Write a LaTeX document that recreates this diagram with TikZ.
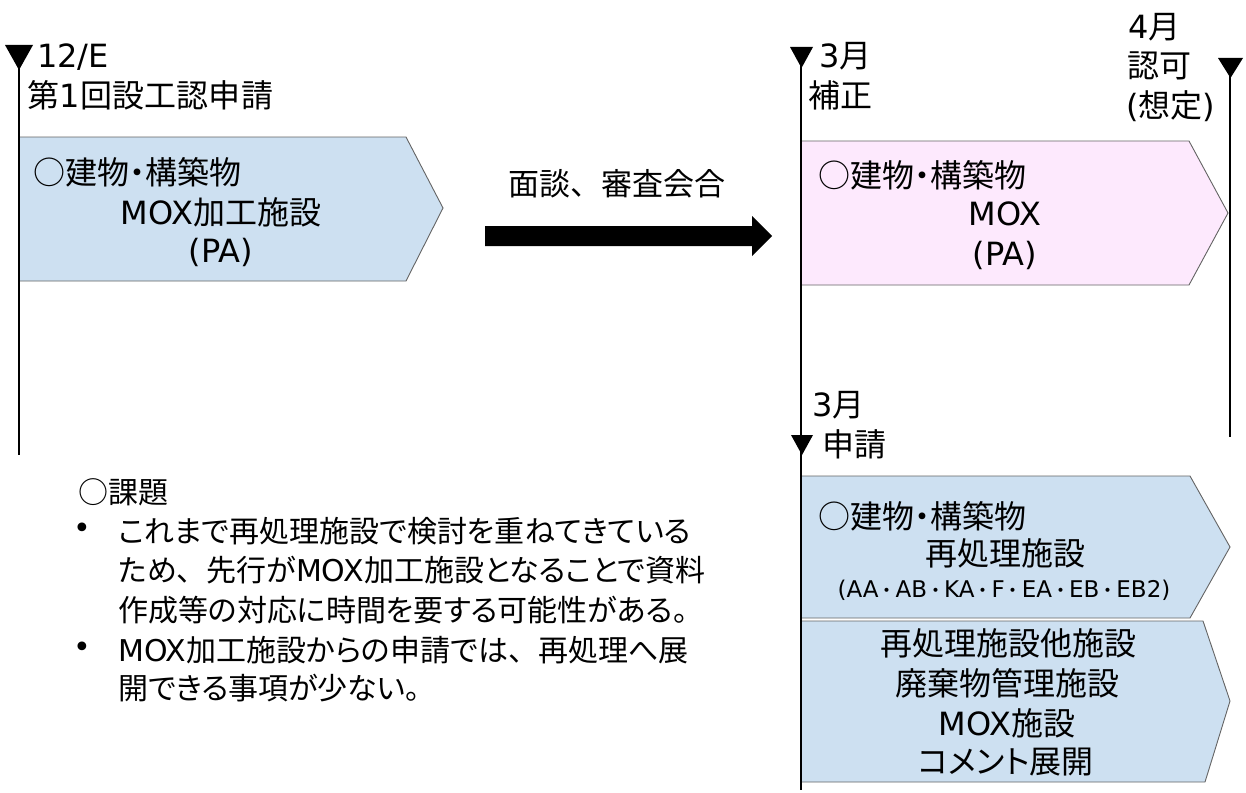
\documentclass[tikz,border=0pt]{standalone}
\usepackage{fontspec}
\setmainfont{Noto Sans CJK JP}[RawFeature=+palt]
\newfontfamily\latf{DejaVu Sans}
\newfontfamily\jpfw{Noto Sans CJK JP}
\newcommand\la[1]{{\latf #1}}
\newcommand\md{{\jpfw\fontsize{19}{22}\selectfont\kern-1pt ・\kern-1pt}}
\newcommand\tc{{\jpfw 、}}
\definecolor{boxblue}{RGB}{205,224,241}
\definecolor{boxpink}{RGB}{253,233,253}
\definecolor{edge}{RGB}{100,100,100}
\tikzset{
  lbl/.style={inner sep=0pt, font=\fontsize{32}{38}\selectfont},
  body/.style={inner sep=0pt, font=\fontsize{30}{37}\selectfont},
  small/.style={inner sep=0pt, font=\fontsize{23}{28}\selectfont},
  chev/.style={draw=edge, line width=0.9pt},
  tl/.style={line width=2.6pt},
  tri/.style={fill=black}
}
\begin{document}
\begin{tikzpicture}[x=1pt,y=-1pt]
\useasboundingbox (0,0) rectangle (1246,792);
% chevron boxes
\draw[chev, fill=boxblue] (19,137) -- (406,137) -- (443,208) -- (406,281) -- (19,281) -- cycle;
\draw[chev, fill=boxpink] (801,141) -- (1189,141) -- (1228,213) -- (1189,285) -- (801,285) -- cycle;
\draw[chev, fill=boxblue] (801,476) -- (1190,476) -- (1230,547) -- (1190,618) -- (801,618) -- cycle;
\draw[chev, fill=boxblue] (801,621) -- (1203,621) -- (1230,701) -- (1205,782) -- (801,782) -- cycle;
% timelines
\coordinate (l1a) at (19,55); \coordinate (l1b) at (19,455);
\coordinate (l2a) at (801,55); \coordinate (l2b) at (801,790);
\coordinate (l3a) at (1230,70); \coordinate (l3b) at (1230,437);
\draw[tl] (l1a) -- (l1b);
\draw[tl] (l2a) -- (l2b);
\draw[tl] (l3a) -- (l3b);
% triangles
\fill[tri] (5,45) -- (33,45) -- (19,70) -- cycle;
\fill[tri] (790,47) -- (813,47) -- (801.5,68) -- cycle;
\fill[tri] (1218,58) -- (1243,58) -- (1230.5,78) -- cycle;
\fill[tri] (791,435) -- (813,435) -- (802,455) -- cycle;
% big arrow
\coordinate (arA) at (485,236); \coordinate (arB) at (772,236);
\fill (485,226) -- (752,226) -- (752,216) -- (772,236) -- (752,256) -- (752,246) -- (485,246) -- cycle;
\node[lbl, font=\fontsize{31}{37}\selectfont] (meet) at (617,184) {面談\tc 審査会合};
% left texts
\node[lbl, anchor=west] (d1) at (37,57) {\la{12/E}};
\node[lbl, anchor=west] (d1b) at (27,95) {\makebox[246pt][s]{第\hfill{}\la{1}\hfill{}回\hfill{}設\hfill{}工\hfill{}認\hfill{}申\hfill{}請}};
\node[lbl, anchor=west] (b1a) at (33,172) {○建物・構築物};
\node[lbl] (b1b) at (221,212) {\la{MOX}加工施設};
\node[lbl] (b1c) at (221,252) {\la{(PA)}};
% middle top
\node[lbl, anchor=west] (d2) at (819,56) {\la{3}月};
\node[lbl, anchor=west] (d2b) at (808,95) {補正};
\node[lbl, anchor=west] (p1a) at (818,175) {○建物・構築物};
\node[lbl] (p1b) at (1005,214) {\la{MOX}};
\node[lbl] (p1c) at (1005,255) {\la{(PA)}};
% right top
\node[lbl, anchor=west] (d3) at (1128,27) {\la{4}月};
\node[lbl, anchor=west] (d3b) at (1127,66) {認可};
\node[lbl, anchor=west] (d3c) at (1126,106) {\la{(}想定\la{)}};
% middle bottom
\node[lbl, anchor=west] (d4) at (812,405) {\la{3}月};
\node[lbl, anchor=west] (d4b) at (822,444) {申請};
\node[lbl, anchor=west] (c1a) at (818,516) {○建物・構築物};
\node[lbl] (c1b) at (1005,553) {再処理施設};
\node[small] (c1c) at (1004,590) {\la{(AA}\md\la{AB}\md\la{KA}\md\la{F}\md\la{EA}\md\la{EB}\md\la{EB2)}};
\node[lbl] (e1) at (1008,643) {再処理施設他施設};
\node[lbl] (e2) at (1007,683) {廃棄物管理施設};
\node[lbl] (e3) at (1007,723) {\la{MOX}施設};
\node[lbl] (e4) at (1006,762) {コメント展開};
% issues
\node[body, anchor=west] (iss) at (78,492) {○課題};
\node[body] (bu1) at (82,531) {\la{•}};
\node[body] (bu2) at (82,650) {\la{•}};
\node[body, anchor=west] (t1) at (118,531) {これまで再処理施設で検討を重ねてきている};
\node[body, anchor=west] (t2) at (118,570) {ため\tc 先行が\la{MOX}加工施設となることで資料};
\node[body, anchor=west] (t3) at (118,610) {作成等の対応に時間を要する可能性がある。};
\node[body, anchor=west] (t4) at (118,650) {\la{MOX}加工施設からの申請では\tc 再処理へ展};
\node[body, anchor=west] (t5) at (118,688) {開できる事項が少ない。};
\end{tikzpicture}
\end{document}
